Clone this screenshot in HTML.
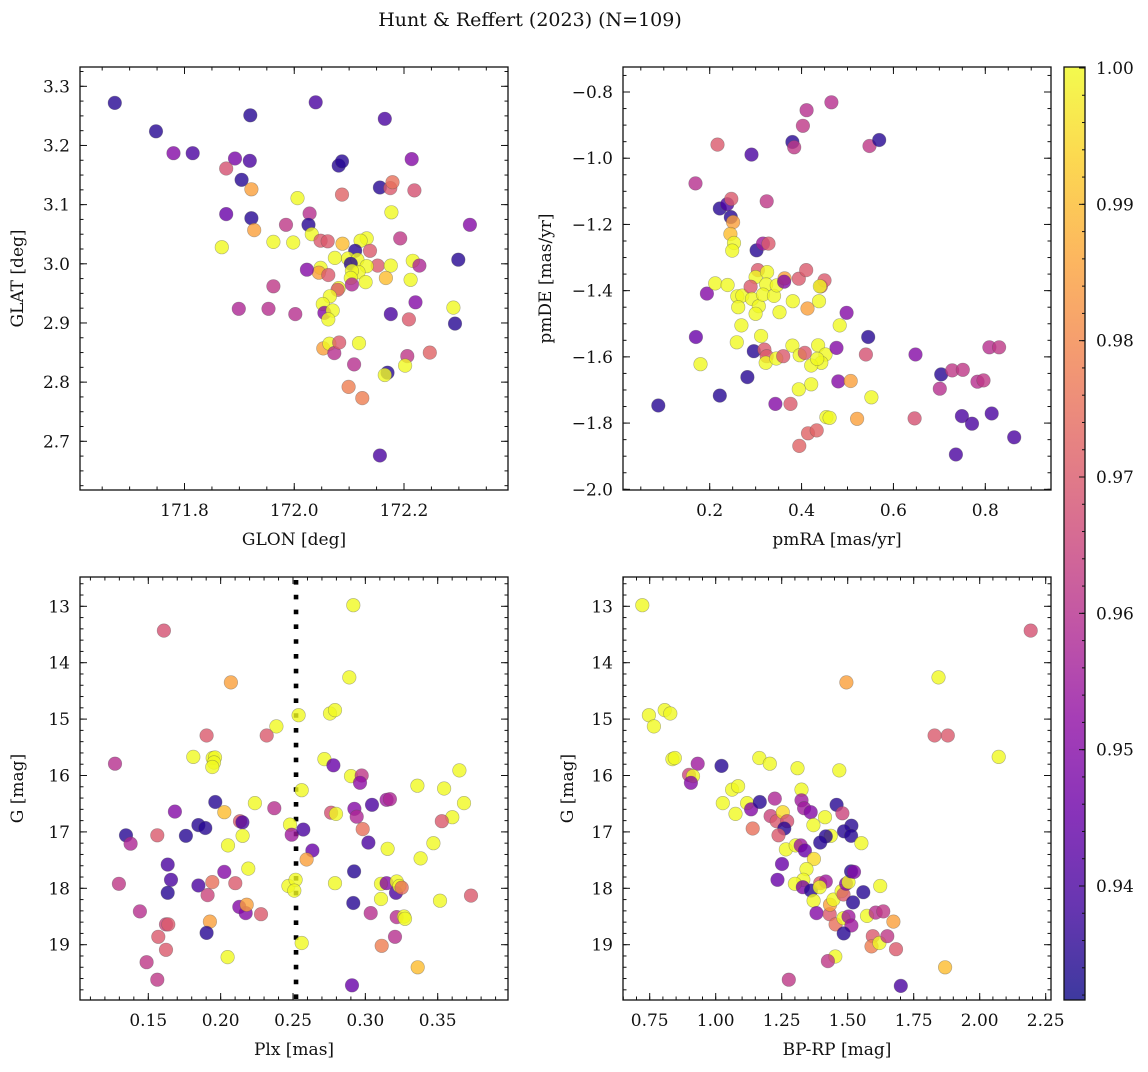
<!DOCTYPE html>
<html><head><meta charset="utf-8"><style>
html,body{margin:0;padding:0;background:#fff}
svg text{font-family:"DejaVu Serif","Liberation Serif",serif;fill:#111}
</style></head><body>
<svg id="fig" width="1148" height="1067" viewBox="0 0 1148 1067" xmlns="http://www.w3.org/2000/svg">
<defs><linearGradient id="cbgrad" x1="0" y1="1" x2="0" y2="0"></linearGradient></defs>
<text x="530" y="26" font-size="19" text-anchor="middle">Hunt &amp; Reffert (2023) (N=109)</text>
</svg>
<script>
// ---------- Panel 1: GLON vs GLAT ----------
const p1Glon=[171.673,171.748,171.780,171.815,171.92,172.039,172.165,171.892,171.919,171.876,171.904,171.922,172.006,171.876,171.922,171.927,171.868,171.962,171.998,171.985,172.028,172.026,172.032,172.048,172.061,172.087,172.081,172.087,172.156,172.175,172.179,172.214,172.219,172.177,172.132,172.121,172.088,172.111,172.138,172.193,172.074,172.098,172.115,172.103,172.152,172.176,172.216,172.228,172.132,172.117,172.105,172.048,172.045,172.062,172.023,172.103,172.105,172.130,172.167,172.212,172.299,172.32,171.962,172.081,172.079,172.065,172.052,172.055,172.07,172.062,171.899,171.953,172.002,172.221,172.176,172.209,172.29,172.293,172.053,172.064,172.073,172.082,172.118,172.206,172.202,172.247,172.109,172.170,172.165,172.099,172.124,172.156];
const p1Glat=[3.272,3.224,3.187,3.187,3.251,3.273,3.245,3.178,3.174,3.161,3.142,3.126,3.111,3.084,3.077,3.057,3.028,3.037,3.036,3.066,3.085,3.066,3.050,3.039,3.038,3.117,3.166,3.173,3.129,3.128,3.138,3.177,3.124,3.087,3.043,3.039,3.034,3.022,3.022,3.043,3.010,3.009,3.007,3.0,2.997,2.997,3.005,2.997,2.996,2.986,2.988,2.993,2.985,2.981,2.99,2.976,2.965,2.969,2.976,2.973,3.007,3.066,2.962,2.959,2.956,2.945,2.932,2.917,2.921,2.906,2.924,2.924,2.915,2.935,2.915,2.906,2.926,2.899,2.857,2.865,2.849,2.867,2.866,2.844,2.828,2.850,2.830,2.816,2.812,2.792,2.773,2.676];
const p1Prob=[0.935,0.935,0.95,0.94,0.935,0.94,0.94,0.948,0.94,0.968,0.935,0.985,1,0.945,0.935,0.985,1,1,1,0.962,0.96,0.935,1,0.97,0.97,0.972,0.935,0.935,0.935,0.97,0.975,0.95,0.968,1,1,1,0.99,0.935,0.97,0.962,1,1,1,0.935,0.97,1,1,0.958,1,1,1,1,0.985,0.97,0.95,1,0.958,1,0.99,1,0.935,0.95,0.962,1,0.97,1,1,0.95,1,1,0.958,0.96,0.96,0.95,0.94,0.97,1,0.935,0.985,1,0.96,0.97,1,0.962,1,0.972,0.96,0.935,1,0.978,0.978,0.94];
const p1XTicks=[171.8,172.0,172.2];
const p1XTickLabels=["171.8","172.0","172.2"];
const p1YTicks=[2.7,2.8,2.9,3.0,3.1,3.2,3.3];
const p1YTickLabels=["2.7","2.8","2.9","3.0","3.1","3.2","3.3"];

// ---------- Panel 2: pmRA vs pmDE ----------
const p2Pmra=[0.088,0.169,0.170,0.194,0.180,0.217,0.222,0.222,0.238,0.247,0.246,0.251,0.245,0.253,0.249,0.212,0.239,0.26,0.271,0.262,0.269,0.259,0.291,0.302,0.316,0.328,0.324,0.305,0.3,0.289,0.292,0.307,0.3,0.312,0.325,0.323,0.316,0.34,0.346,0.363,0.362,0.352,0.296,0.319,0.324,0.322,0.345,0.36,0.282,0.381,0.394,0.41,0.38,0.384,0.403,0.411,0.465,0.548,0.569,0.442,0.45,0.44,0.438,0.413,0.38,0.396,0.407,0.436,0.452,0.443,0.421,0.434,0.476,0.483,0.498,0.545,0.54,0.421,0.394,0.343,0.376,0.48,0.507,0.552,0.454,0.461,0.521,0.414,0.433,0.395,0.648,0.646,0.704,0.701,0.728,0.751,0.783,0.796,0.809,0.83,0.749,0.771,0.814,0.863,0.736];
const p2Pmde=[-1.747,-1.076,-1.540,-1.409,-1.622,-0.959,-1.152,-1.717,-1.139,-1.123,-1.178,-1.193,-1.229,-1.256,-1.279,-1.378,-1.383,-1.417,-1.415,-1.45,-1.505,-1.556,-0.989,-1.278,-1.258,-1.258,-1.130,-1.338,-1.359,-1.388,-1.425,-1.447,-1.47,-1.537,-1.344,-1.381,-1.412,-1.416,-1.384,-1.363,-1.373,-1.465,-1.583,-1.578,-1.598,-1.618,-1.605,-1.598,-1.661,-1.432,-1.364,-1.338,-0.951,-0.967,-0.902,-0.855,-0.831,-0.963,-0.945,-1.387,-1.369,-1.387,-1.432,-1.454,-1.566,-1.595,-1.588,-1.565,-1.593,-1.618,-1.626,-1.606,-1.573,-1.505,-1.467,-1.540,-1.593,-1.683,-1.698,-1.742,-1.742,-1.674,-1.673,-1.722,-1.782,-1.784,-1.787,-1.831,-1.822,-1.869,-1.593,-1.786,-1.653,-1.696,-1.641,-1.639,-1.675,-1.671,-1.571,-1.571,-1.779,-1.802,-1.771,-1.843,-1.895];
const p2Prob=[0.935,0.96,0.945,0.95,1,0.97,0.935,0.935,0.94,0.97,0.935,0.985,0.99,1,1,1,1,1,1,1,1,1,0.94,0.935,0.955,0.97,0.962,0.97,1,0.97,1,1,1,1,1,1,1,1,1,0.985,0.95,1,0.935,0.97,0.97,1,1,0.97,0.935,1,0.97,0.97,0.935,0.962,0.962,0.96,0.96,0.962,0.935,0.97,0.97,1,1,0.985,1,1,0.97,1,1,1,1,1,0.95,1,0.95,0.935,0.968,1,1,0.95,0.97,0.95,0.985,1,1,1,0.985,0.972,0.972,0.972,0.95,0.968,0.935,0.96,0.962,0.962,0.96,0.962,0.96,0.962,0.94,0.94,0.94,0.94,0.94];
const p2XTicks=[0.2,0.4,0.6,0.8];
const p2XTickLabels=["0.2","0.4","0.6","0.8"];
const p2YTicks=[-2.0,-1.8,-1.6,-1.4,-1.2,-1.0,-0.8];
const p2YTickLabels=["\u22122.0","\u22121.8","\u22121.6","\u22121.4","\u22121.2","\u22121.0","\u22120.8"];

// ---------- Panel 3: Plx vs G ----------
const p3Plx=[.1608,.2071,.2917,.2889,.2756,.279,.2539,.2385,.1903,.2318,.127,.1811,.1945,.1961,.1954,.1942,.2717,.2779,.2901,.2975,.2963,.256,.365,.336,.3544,.3682,.3601,.3528,.3147,.317,.3046,.2924,.294,.2763,.2797,.2982,.3021,.3154,.347,.3382,.1963,.2025,.2237,.2371,.1684,.2134,.215,.1846,.1894,.176,.1562,.1346,.1378,.2152,.2051,.2479,.2491,.2571,.2634,.2594,.1634,.1657,.1634,.2025,.2191,.1297,.1846,.1942,.191,.2101,.2129,.2173,.218,.2279,.1442,.1622,.1638,.1926,.1903,.1569,.1622,.1488,.1562,.2048,.2468,.2518,.2509,.256,.2922,.2917,.2908,.279,.3108,.3147,.3217,.3212,.3235,.3251,.3108,.3037,.3217,.3267,.3274,.3205,.3113,.3516,.373,.3362];
const p3G=[13.43,14.35,12.98,14.26,14.90,14.84,14.93,15.13,15.29,15.29,15.79,15.67,15.69,15.68,15.77,15.85,15.71,15.82,16.01,16.00,16.13,16.26,15.91,16.18,16.23,16.49,16.74,16.81,16.43,16.42,16.52,16.59,16.73,16.66,16.68,16.95,17.19,17.30,17.20,17.47,16.47,16.65,16.49,16.58,16.64,16.81,16.83,16.88,16.93,17.07,17.06,17.06,17.21,17.07,17.24,16.87,17.05,16.96,17.33,17.49,17.58,17.85,18.08,17.71,17.65,17.92,17.95,17.89,18.12,17.91,18.33,18.44,18.29,18.46,18.41,18.64,18.64,18.59,18.79,18.86,19.09,19.31,19.62,19.22,17.96,17.85,18.04,18.97,17.70,18.26,19.72,17.91,17.92,17.91,17.88,18.08,17.96,17.99,18.19,18.44,18.51,18.50,18.54,18.86,19.02,18.22,18.13,19.40];
const p3Prob=[0.968,0.985,1,1,1,1,1,1,0.97,0.97,0.96,1,1,1,1,1,1,0.945,1,0.962,0.952,1,1,1,1,1,1,0.97,0.955,0.958,0.94,0.95,0.958,0.968,1,0.975,0.94,1,1,1,0.935,0.99,1,0.96,0.95,0.97,0.94,0.935,0.935,0.935,0.97,0.935,0.958,1,1,1,0.955,0.94,0.945,0.985,0.94,0.94,0.935,0.95,1,0.962,0.94,0.975,0.965,0.97,0.95,0.95,0.985,0.97,0.96,0.965,0.97,0.985,0.935,0.97,0.97,0.962,0.962,1,1,1,1,1,0.935,0.935,0.945,1,1,0.95,1,0.94,1,0.975,1,0.96,0.96,1,1,0.96,0.978,1,0.97,0.99];
const p3CutPlx=[0.2521];
const p3XTicks=[0.15,0.20,0.25,0.30,0.35];
const p3XTickLabels=["0.15","0.20","0.25","0.30","0.35"];
const gTicks=[13,14,15,16,17,18,19];
const gTickLabels=["13","14","15","16","17","18","19"];

// ---------- Panel 4: BP-RP vs G ----------
const p4Bprp=[.722,.747,.766,.807,.828,.836,.845,.932,.899,.914,.906,1.022,1.165,1.205,1.31,1.468,1.495,1.844,1.829,1.879,2.072,2.193,1.062,1.085,1.027,1.075,1.119,1.134,1.167,1.14,1.224,1.208,1.231,1.254,1.271,1.26,1.238,1.325,1.325,1.335,1.36,1.37,1.414,1.458,1.48,1.514,1.486,1.513,1.436,1.417,1.396,1.552,1.266,1.303,1.322,1.338,1.372,1.344,1.251,1.234,1.332,1.3,1.33,1.361,1.396,1.417,1.394,1.371,1.382,1.432,1.433,1.446,1.477,1.484,1.494,1.503,1.513,1.524,1.52,1.559,1.623,1.454,1.484,1.503,1.514,1.485,1.573,1.606,1.635,1.673,1.595,1.59,1.62,1.65,1.683,1.453,1.425,1.277,1.701,1.869];
const p4G=[12.98,14.93,15.13,14.84,14.90,15.71,15.69,15.79,15.99,16.01,16.13,15.83,15.69,15.79,15.87,15.91,14.35,14.26,15.29,15.29,15.67,13.43,16.25,16.19,16.49,16.68,16.49,16.60,16.47,16.94,16.41,16.72,16.81,16.65,16.81,16.94,17.06,16.25,16.44,16.58,16.65,16.88,16.74,16.52,16.67,16.89,16.99,17.07,17.07,17.08,17.19,17.20,17.31,17.24,17.24,17.33,17.48,17.66,17.57,17.85,17.85,17.92,17.98,18.04,17.91,17.88,17.98,18.22,18.44,18.46,18.29,18.20,18.05,18.11,17.92,17.89,17.70,17.71,18.25,18.07,17.96,18.64,18.53,18.50,18.66,18.80,18.49,18.43,18.41,18.59,18.85,19.03,18.97,18.85,19.08,19.21,19.29,19.62,19.73,19.40];
const p4Prob=[1,1,1,1,1,1,1,0.955,0.965,1,0.95,0.935,1,1,1,1,0.985,1,0.97,0.97,1,0.968,1,1,1,1,1,0.95,0.935,0.975,0.958,0.965,0.97,0.995,0.968,0.935,0.97,1,0.955,0.955,0.95,1,1,0.935,0.965,0.935,0.935,0.935,1,0.935,0.935,1,1,1,0.955,0.945,0.995,1,0.945,0.945,1,1,0.948,0.935,0.97,0.955,1,1,0.95,0.97,0.985,1,1,0.97,0.95,1,0.935,0.95,0.935,0.935,1,0.975,1,0.955,0.955,0.935,1,0.96,0.962,0.985,0.97,0.978,1,0.962,0.97,1,0.962,0.962,0.94,0.99];
const p4XTicks=[0.75,1.00,1.25,1.50,1.75,2.00,2.25];
const p4XTickLabels=["0.75","1.00","1.25","1.50","1.75","2.00","2.25"];

// ---------- Colorbar ----------
const cbTicks=[0.94,0.95,0.96,0.97,0.98,0.99,1.00];
const cbTickLabels=["0.94","0.95","0.96","0.97","0.98","0.99","1.00"];

const NS="http://www.w3.org/2000/svg";
const svg=document.getElementById('fig');
const VMIN=0.9317, VMAX=1.0;
const PLASMA=[[13,8,135],[65,4,157],[106,0,168],[143,13,164],[177,42,144],[204,71,120],[225,100,98],[242,132,75],[252,166,54],[252,206,37],[240,249,33]];
function plasma(t){t=Math.max(0,Math.min(1,t));const f=t*10,i=Math.min(9,Math.floor(f)),r=f-i;const a=PLASMA[i],b=PLASMA[i+1];
return 'rgb('+a.map((v,k)=>Math.round(v+(b[k]-v)*r)).join(',')+')';}
function el(tag,attrs,parent){const e=document.createElementNS(NS,tag);for(const k in attrs)e.setAttribute(k,attrs[k]);(parent||svg).appendChild(e);return e;}
function lin(d0,d1,r0,r1){return v=>r0+(v-d0)*(r1-r0)/(d1-d0);}
function rangeTicks(lo,hi,step){const out=[];const s=Math.ceil(lo/step-1e-9);for(let i=s;i*step<=hi+1e-9;i++)out.push(+(i*step).toFixed(6));return out;}

function panel(cfg){
  const g=el('g',{});
  
  
  const {L,R,T,B}=cfg;
  const xs=lin(cfg.xd[0],cfg.xd[1],cfg.xr[0],cfg.xr[1]);
  const ys=lin(cfg.yd[0],cfg.yd[1],cfg.yr[0],cfg.yr[1]);
  const xinv=lin(cfg.xr[0],cfg.xr[1],cfg.xd[0],cfg.xd[1]);
  const yinv=lin(cfg.yr[0],cfg.yr[1],cfg.yd[0],cfg.yd[1]);
  const clip=el('clipPath',{id:'clip-'+cfg.name},g);
  el('rect',{x:L,y:T,width:R-L,height:B-T},clip);
  const pts=el('g',{'clip-path':'url(#clip-'+cfg.name+')'},g);
  
  
  if(cfg.extra)cfg.extra(pts,xs,ys);
  for(let i=0;i<cfg.x.length;i++){
    const c=el('circle',{cx:xs(cfg.x[i]).toFixed(1),cy:ys(cfg.y[i]).toFixed(1),r:6.8,fill:plasma((cfg.c[i]-VMIN)/(VMAX-VMIN)),'fill-opacity':0.8,stroke:'#555','stroke-opacity':0.45,'stroke-width':0.6},pts);
    
    
  }
  const tk=el('g',{stroke:'#111','stroke-width':1},g);
  
  
  const xlo=Math.min(xinv(L),xinv(R)),xhi=Math.max(xinv(L),xinv(R));
  const ylo=Math.min(yinv(T),yinv(B)),yhi=Math.max(yinv(T),yinv(B));
  rangeTicks(xlo,xhi,cfg.xminor).forEach(v=>{const x=xs(v);el('line',{x1:x,x2:x,y1:B,y2:B-3.5},tk);el('line',{x1:x,x2:x,y1:T,y2:T+3.5},tk);});
  rangeTicks(ylo,yhi,cfg.yminor).forEach(v=>{const y=ys(v);el('line',{x1:L,x2:L+3.5,y1:y,y2:y},tk);el('line',{x1:R,x2:R-3.5,y1:y,y2:y},tk);});
  cfg.xt.forEach((v,i)=>{const x=xs(v);el('line',{x1:x,x2:x,y1:B,y2:B-7},tk);el('line',{x1:x,x2:x,y1:T,y2:T+7},tk);
    const t=el('text',{x:x,y:B+26,'font-size':17,'text-anchor':'middle'},g);t.textContent=cfg.xtl[i];
    
    });
  cfg.yt.forEach((v,i)=>{const y=ys(v);el('line',{x1:L,x2:L+7,y1:y,y2:y},tk);el('line',{x1:R,x2:R-7,y1:y,y2:y},tk);
    const t=el('text',{x:L-10,y:y+6,'font-size':17,'text-anchor':'end'},g);t.textContent=cfg.ytl[i];
    
    });
  const fr=el('rect',{x:L,y:T,width:R-L,height:B-T,fill:'none',stroke:'#111','stroke-width':1.3},g);
  
  
  const xl=el('text',{x:(L+R)/2,y:B+55,'font-size':17,'text-anchor':'middle'},g);xl.textContent=cfg.xlabel;
  
  
  const yx=cfg.ylx,yy=(T+B)/2;
  const yl=el('text',{x:yx,y:yy,'font-size':17,'text-anchor':'middle',transform:'rotate(-90 '+yx+' '+yy+')'},g);yl.textContent=cfg.ylabel;
  
  
}

panel({name:'glon-glat-panel',L:80,R:508,T:67,B:490,x:p1Glon,y:p1Glat,c:p1Prob,
  xd:[171.8,172.2],xr:[184.5,404],yd:[3.3,2.7],yr:[86.3,441.3],xminor:0.05,yminor:0.025,
  xt:p1XTicks,xtl:p1XTickLabels,yt:p1YTicks,ytl:p1YTickLabels,xlabel:'GLON [deg]',ylabel:'GLAT [deg]',ylx:23});
panel({name:'proper-motion-panel',L:623,R:1051,T:67,B:490,x:p2Pmra,y:p2Pmde,c:p2Prob,
  xd:[0.2,0.8],xr:[709.7,985.3],yd:[-0.8,-2.0],yr:[92,489.3],xminor:0.05,yminor:0.05,
  xt:p2XTicks,xtl:p2XTickLabels,yt:p2YTicks,ytl:p2YTickLabels,xlabel:'pmRA [mas/yr]',ylabel:'pmDE [mas/yr]',ylx:551});
panel({name:'parallax-mag-panel',L:80,R:508,T:577,B:1000,x:p3Plx,y:p3G,c:p3Prob,
  xd:[0.15,0.35],xr:[148.3,437.7],yd:[13,19],yr:[606.3,944.7],xminor:0.01,yminor:0.2,
  xt:p3XTicks,xtl:p3XTickLabels,yt:gTicks,ytl:gTickLabels,xlabel:'Plx [mas]',ylabel:'G [mag]',ylx:23,
  extra:(g,xs,ys)=>{p3CutPlx.forEach(v=>{const l=el('line',{x1:xs(v),x2:xs(v),y1:580,y2:1000,stroke:'#000','stroke-width':4.6,'stroke-dasharray':'4.6 10.2'},g);
    
    });}});
panel({name:'cmd-panel',L:623,R:1051,T:577,B:1000,x:p4Bprp,y:p4G,c:p4Prob,
  xd:[0.75,2.25],xr:[649.7,1045.7],yd:[13,19],yr:[606.3,944.7],xminor:0.05,yminor:0.2,
  xt:p4XTicks,xtl:p4XTickLabels,yt:gTicks,ytl:gTickLabels,xlabel:'BP-RP [mag]',ylabel:'G [mag]',ylx:573});

(function(){
  const grad=document.getElementById('cbgrad');
  for(let i=0;i<=20;i++){el('stop',{offset:(i/20),'stop-color':plasma(i/20),'stop-opacity':0.8},grad);}
  const g=el('g',{});
  
  
  const L=1064,R=1085,T=67,B=1000;
  el('rect',{x:L,y:T,width:R-L,height:B-T,fill:'url(#cbgrad)'},g);
  const cs=lin(1.0,0.97,68,477);
  rangeTicks(VMIN,VMAX,0.002).forEach(v=>{const y=cs(v);el('line',{x1:R,x2:R-3,y1:y,y2:y,stroke:'#111'},g);});
  cbTicks.forEach((v,i)=>{const y=cs(v);el('line',{x1:R,x2:R-6,y1:y,y2:y,stroke:'#111'},g);
    const t=el('text',{x:1096,y:y+6,'font-size':17},g);t.textContent=cbTickLabels[i];
    
    });
  el('rect',{x:L,y:T,width:R-L,height:B-T,fill:'none',stroke:'#111','stroke-width':1.3},g);
})();
</script>
</body></html>
